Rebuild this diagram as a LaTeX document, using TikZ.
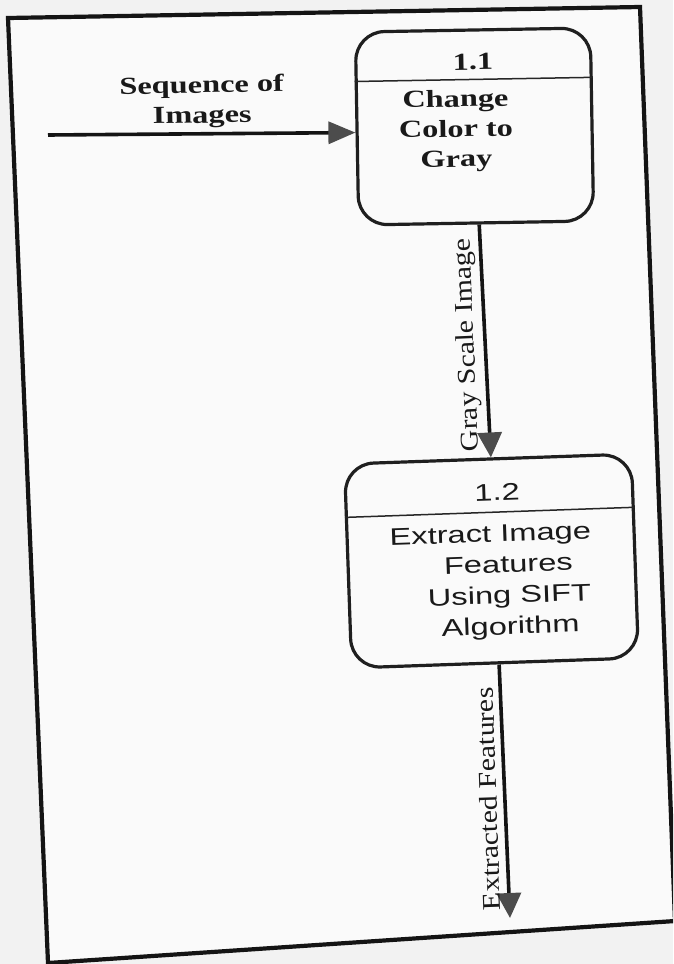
\documentclass[tikz,border=0pt]{standalone}
\usepackage{fontspec}
\setmainfont{Liberation Serif}
\newfontfamily\tbold[FakeStretch=1.32]{Liberation Serif}
\newfontfamily\tvert[FakeStretch=1.17]{Liberation Serif}
\newfontfamily\asans[FakeStretch=1.36]{Liberation Sans}
\usetikzlibrary{arrows.meta,calc}
\begin{document}
\begin{tikzpicture}[x=1pt,y=-1pt,
  procbox/.style={draw=black!88, line width=3.2pt, rounded corners=29pt, inner sep=0pt},
  flow/.style={draw=black!92, line width=3.6pt, -{Triangle[length=25pt,width=24pt,fill=black!70,color=black!70]}},
  hdr/.style={draw=black!85, line width=1.5pt},
  boldtxt/.style={font=\tbold\bfseries\fontsize{24.5}{30}\selectfont, align=center, inner sep=0pt, text=black!90},
  sanstxt/.style={font=\asans\fontsize{24}{31}\selectfont, align=center, inner sep=0pt, text=black!90},
  vlabel/.style={font=\tvert\fontsize{25.5}{30}\selectfont, inner sep=0pt, text=black!90},
]
\fill[black!5] (0,0) rectangle (673,964);
\useasboundingbox (0,0) rectangle (673,964);
\begin{scope}
\clip (0,0) rectangle (673,964);
\fill[black!2] (8,18) -- (640,7) -- (675,921) -- (48,963) -- cycle;
\draw[line width=4.2pt, line join=miter, draw=black!92] (8,18) -- (640,7) -- (675,921) -- (48,963) -- cycle;
\end{scope}

% process 1.1
\node[procbox, minimum width=235pt, minimum height=193pt, rotate=1.0] (p11) at (474.5,126.5) {};
\draw[hdr] ($(p11.north west)!0.26!(p11.south west)$) -- ($(p11.north east)!0.26!(p11.south east)$);
\node[boldtxt, rotate=1.0] (n11) at (473,62) {1.1};
\node[boldtxt, rotate=1.0] (t11) at (456,131) {Change\\Color to\\Gray};

% process 1.2
\node[procbox, minimum width=287pt, minimum height=204pt, rotate=2.0] (p12) at (491.5,561) {};
\draw[hdr] ($(p12.north west)!0.265!(p12.south west)$) -- ($(p12.north east)!0.265!(p12.south east)$);
\node[sanstxt, rotate=2.0] (n12) at (497,492) {1.2};
\node[sanstxt, rotate=2.0] (t12) at (509,582) {Extract Image\kern34pt\\Features\\Using SIFT\\Algorithm};

% input flow
\coordinate (src) at (48,135);
\node[boldtxt, rotate=1.0] (lseq) at (202,102) {Sequence of\\Images};
\draw[flow, -{Triangle[length=27pt,width=22pt,fill=black!70,color=black!70]}] (src) -- ($(p11.west)+(0,4)$);

% internal flow
\draw[flow] ($(p11.south)+(3,0)$) -- ($(p12.north)+(3,0)$);
\node[vlabel, rotate=92.5] (lgray) at (468,345) {Gray Scale Image};

% output flow
\coordinate (sink) at (510,918);
\draw[flow] ($(p12.south)+(4,0)$) -- (sink);
\node[vlabel, rotate=92] (lext) at (488,799) {Extracted Features};
\end{tikzpicture}
\end{document}
